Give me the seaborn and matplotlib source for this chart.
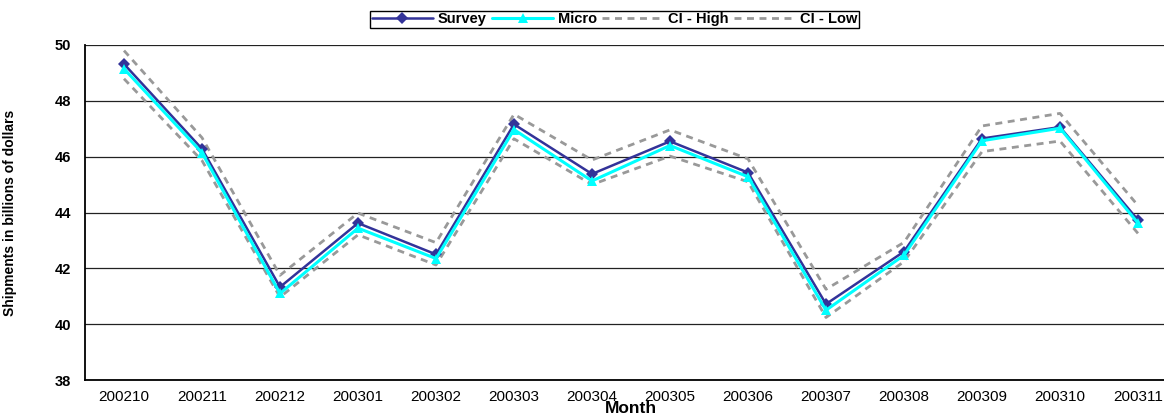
import numpy as np
import pandas as pd
import matplotlib
matplotlib.use("Agg")
import matplotlib.pyplot as plt
import seaborn as sns

months = ["200210", "200211", "200212", "200301", "200302", "200303", "200304",
          "200305", "200306", "200307", "200308", "200309", "200310", "200311"]
survey = [49.32, 46.28, 41.33, 43.62, 42.5, 47.16, 45.38, 46.55, 45.43, 40.72, 42.6, 46.65, 47.06, 43.73]
micro = [49.15, 46.14, 41.1, 43.44, 42.35, 46.97, 45.13, 46.4, 45.28, 40.5, 42.47, 46.57, 47.02, 43.62]
ci_high = [49.8, 46.68, 41.75, 43.98, 42.92, 47.52, 45.88, 46.96, 45.92, 41.25, 42.93, 47.1, 47.55, 44.25]
ci_low = [48.79, 45.86, 40.97, 43.2, 42.12, 46.64, 45.0, 46.02, 45.1, 40.24, 42.24, 46.18, 46.56, 43.25]

df = pd.DataFrame({"pos": np.arange(len(months)), "Survey": survey, "Micro": micro,
                   "CI - High": ci_high, "CI - Low": ci_low})

sns.set_style("white")
plt.rcParams["font.family"] = ["Liberation Sans", "DejaVu Sans"]
plt.rcParams.update({"text.color": "black", "axes.labelcolor": "black",
                     "xtick.color": "black", "ytick.color": "black"})

fig = plt.figure(figsize=(11.64, 4.18), dpi=100)
# axes run a little past the right edge, as in the reference
ax = fig.add_axes([85 / 1164, 1 - 380 / 418, 1092 / 1164, 335 / 418])

dash = (0, (2.5, 2))
sns.lineplot(data=df, x="pos", y="CI - High", ax=ax, color="#999999", lw=2,
             linestyle=dash, label="CI - High", zorder=2)
sns.lineplot(data=df, x="pos", y="CI - Low", ax=ax, color="#999999", lw=2,
             linestyle=dash, label="CI - Low", zorder=2)
sns.lineplot(data=df, x="pos", y="Survey", ax=ax, color="#333399", lw=1.8,
             marker="D", markersize=6.5, markeredgewidth=0, label="Survey", zorder=3)
sns.lineplot(data=df, x="pos", y="Micro", ax=ax, color="#00FFFF", lw=2.2,
             marker="^", markersize=7, markeredgewidth=0, label="Micro", zorder=4)

ax.set_ylim(38, 50)
ax.set_yticks(np.arange(38, 51, 2))
ax.set_xlim(-0.5, len(months) - 0.5)
ax.set_xticks(df["pos"])
ax.set_xticklabels(months, fontsize=11)
ax.set_xticks(np.arange(-0.5, len(months), 1), minor=True)
ax.tick_params(axis="x", which="major", length=0, pad=7)
ax.tick_params(axis="x", which="minor", length=3, width=1, color="black", direction="out")
ax.tick_params(axis="y", length=5, width=1, color="black", direction="out", labelsize=10.5, pad=5)
for lab in ax.get_yticklabels():
    lab.set_fontweight("bold")

ax.grid(axis="y", color="#222222", lw=0.9)
ax.set_axisbelow(True)
for s in ["top", "right"]:
    ax.spines[s].set_visible(False)
for s in ["left", "bottom"]:
    ax.spines[s].set_color("black")
    ax.spines[s].set_linewidth(1.3)

ax.set_xlabel("Month", fontsize=12.5, fontweight="bold")
ax.xaxis.set_label_coords((631 - 85) / 1092, (380 - 401) / 335, transform=ax.transAxes)
ax.xaxis.label.set_va("top")
ax.set_ylabel("Shipments in billions of dollars", fontsize=10, fontweight="bold")
ax.yaxis.set_label_coords((17.5 - 85) / 1092, 0.5)

handles, labels = ax.get_legend_handles_labels()
order = [labels.index(n) for n in ["Survey", "Micro", "CI - High", "CI - Low"]]
leg = ax.legend([handles[i] for i in order], [labels[i] for i in order], ncol=4,
                loc="upper center", bbox_to_anchor=(614.5 / 1164, 1 - 11 / 418),
                bbox_transform=fig.transFigure, frameon=True, fancybox=False,
                edgecolor="black", framealpha=1, prop={"weight": "bold", "size": 10.5},
                handlelength=4.2, columnspacing=0.4, handletextpad=0.3,
                borderpad=0.1, borderaxespad=0)
leg.get_frame().set_linewidth(1)

fig.savefig("out.png", dpi=100)
